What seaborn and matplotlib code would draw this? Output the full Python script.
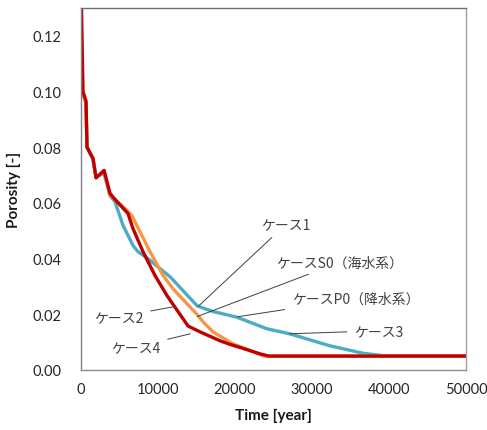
import matplotlib
matplotlib.use("Agg")
import matplotlib.pyplot as plt
import seaborn as sns
import pandas as pd

# Porosity evolution for each case (time in years)
t_teal = [0, 260, 650, 780, 1560, 1950, 3000, 3770, 4400, 5450, 6750, 7400, 8700,
          11560, 15100, 17150, 20200, 24150, 27100, 32300, 36660, 39700, 50000]
p_teal = [0.100, 0.099, 0.0960, 0.080, 0.0755, 0.0695, 0.0705, 0.0625, 0.0605, 0.052,
          0.0447, 0.0425, 0.040, 0.0335, 0.023, 0.021, 0.019, 0.0148, 0.013, 0.0087,
          0.006, 0.005, 0.005]

t_orange = [0, 260, 650, 780, 1560, 1950, 3000, 3770, 4500, 5700, 6600, 7660, 8960,
            10650, 12000, 15060, 15850, 17150, 19740, 22860, 23800, 50000]
p_orange = [0.100, 0.099, 0.0960, 0.080, 0.076, 0.069, 0.0715, 0.0627, 0.061, 0.058,
            0.0555, 0.0497, 0.0425, 0.034, 0.029, 0.020, 0.0173, 0.0137, 0.0094, 0.006,
            0.005, 0.005]

t_red = [0, 260, 650, 780, 1560, 1950, 3000, 3770, 4500, 6100, 6750, 8050, 9600,
         11170, 13900, 15450, 18050, 19350, 21000, 23250, 24400, 50000]
p_red = [0.140, 0.100, 0.0966, 0.080, 0.076, 0.069, 0.0717, 0.0634, 0.061, 0.0562,
         0.0508, 0.0425, 0.034, 0.0267, 0.0158, 0.0137, 0.0105, 0.0092, 0.0078, 0.0058,
         0.005, 0.005]

series = {"teal": (t_teal, p_teal), "orange": (t_orange, p_orange), "red": (t_red, p_red)}
colors = {"teal": "#4BACC6", "orange": "#F79646", "red": "#C00000"}

# Case labels: (text, text x, text y, target x, target y)
labels = ["ケース1", "ケースS0（海水系）", "ケースP0（降水系）", "ケース3", "ケース2", "ケース4"]
label_xy = [(23400, 0.0523), (25300, 0.0386), (27400, 0.0256), (35500, 0.0141),
            (8100, 0.0191), (10300, 0.0083)]
target_xy = [(15200, 0.0228), (15100, 0.0192), (20300, 0.0191), (27100, 0.0130),
             (12200, 0.0228), (14200, 0.0130)]
label_ha = ["left", "left", "left", "left", "right", "right"]

x_ticks = [0, 10000, 20000, 30000, 40000, 50000]
y_ticks = [0.00, 0.02, 0.04, 0.06, 0.08, 0.10, 0.12]

sns.set_theme(style="white")
plt.rcParams["font.family"] = ["Lato", "Noto Sans CJK JP", "DejaVu Sans"]

frames = []
for name, (t, p) in series.items():
    frames.append(pd.DataFrame({"time": t, "porosity": p, "case": name}))
df = pd.concat(frames, ignore_index=True)

fig = plt.figure(figsize=(4.87, 4.31), dpi=100)
ax = fig.add_axes([81 / 487, 1 - 371 / 431, (466 - 81) / 487, (371 - 9) / 431])

sns.lineplot(data=df, x="time", y="porosity", hue="case", palette=colors,
             hue_order=["teal", "orange", "red"], estimator=None, sort=False,
             linewidth=2.4, legend=False, ax=ax)

ax.set_xlim(0, 50000)
ax.set_ylim(0, 0.13)
ax.set_xticks(x_ticks)
ax.set_xticklabels([f"{v:d}" for v in x_ticks])
ax.set_yticks(y_ticks)
ax.set_yticklabels([f"{v:.2f}" for v in y_ticks])

ax.tick_params(axis="both", direction="in", colors="#808080", labelcolor="#262626",
               labelsize=10.5, width=0.8)
ax.tick_params(axis="x", length=6, pad=9)
ax.tick_params(axis="y", length=4, pad=14)

for side, spine in ax.spines.items():
    spine.set_color("#8c8c8c")
    spine.set_linewidth(1.0)
ax.spines["left"].set_color("#808080")
ax.spines["top"].set_color("#707070")
ax.spines["right"].set_color("#a0a0a0")

ax.set_xlabel("Time [year]", fontsize=11, fontweight="bold", color="#1a1a1a", labelpad=8)
ax.set_ylabel("Porosity [-]", fontsize=11, fontweight="bold", color="#1a1a1a", labelpad=8)

for text, (tx, ty), (px, py), ha in zip(labels, label_xy, target_xy, label_ha):
    ax.annotate(text, xy=(px, py), xytext=(tx, ty), ha=ha, va="center",
                fontsize=10, color="#404040",
                family=["Noto Sans CJK JP", "DejaVu Sans"],
                arrowprops=dict(arrowstyle="-", color="#404040", lw=0.7,
                                shrinkA=3, shrinkB=0))

fig.savefig("out.png", dpi=100)
